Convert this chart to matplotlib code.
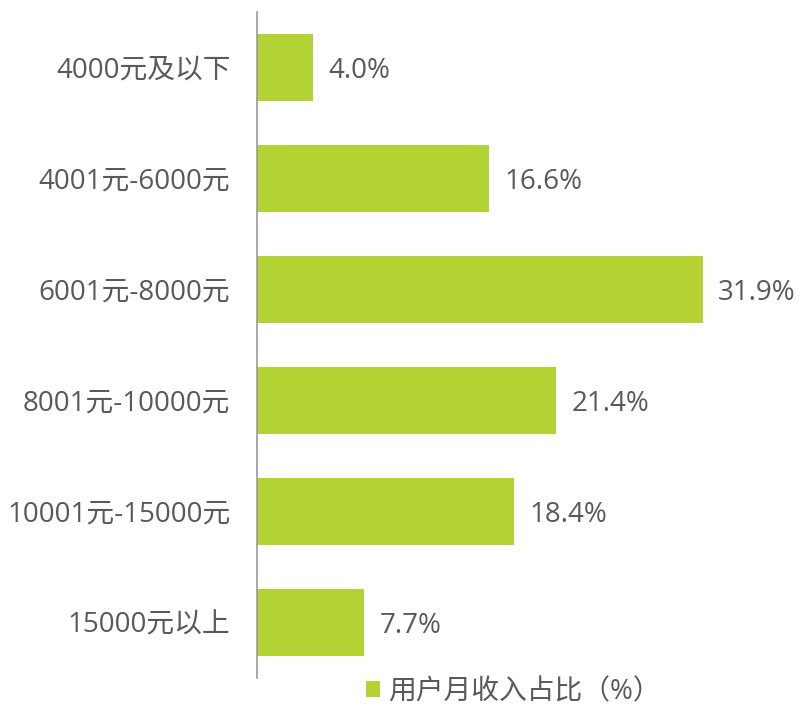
import matplotlib.pyplot as plt

plt.rcParams['font.family'] = ['Open Sans', 'Noto Sans CJK SC', 'DejaVu Sans']

categories = ['4000元及以下', '4001元-6000元', '6001元-8000元',
              '8001元-10000元', '10001元-15000元', '15000元以上']
values = [4.0, 16.6, 31.9, 21.4, 18.4, 7.7]
series_name = '用户月收入占比（%）'

bar_color = '#B3D334'
text_color = '#595959'

fig = plt.figure(figsize=(8, 7.07), dpi=100)
ax = fig.add_axes([0.321, 0.041, 0.629, 0.942])

ypos = range(len(categories))
ax.barh(ypos, values, height=0.61, color=bar_color, label=series_name)
for y, v in zip(ypos, values):
    ax.text(v + 1.1, y + 0.03, f'{v:.1f}%', va='center', ha='left',
            fontsize=20, color=text_color)

ax.set_xlim(0, 36)
ax.set_ylim(5.5, -0.5)
ax.set_yticks(list(ypos))
ax.set_yticklabels(categories, fontsize=20, color=text_color)
ax.tick_params(axis='y', length=0, pad=19)
ax.set_xticks([])
for s in ['top', 'right', 'bottom']:
    ax.spines[s].set_visible(False)
ax.spines['left'].set_color('#999999')
ax.spines['left'].set_linewidth(1.2)

fig.legend(loc='center', bbox_to_anchor=(0.642, 0.021), frameon=False,
           fontsize=20, labelcolor=text_color, handlelength=0.5,
           handleheight=0.5, handletextpad=0.3)

fig.savefig('out.png', dpi=100)
